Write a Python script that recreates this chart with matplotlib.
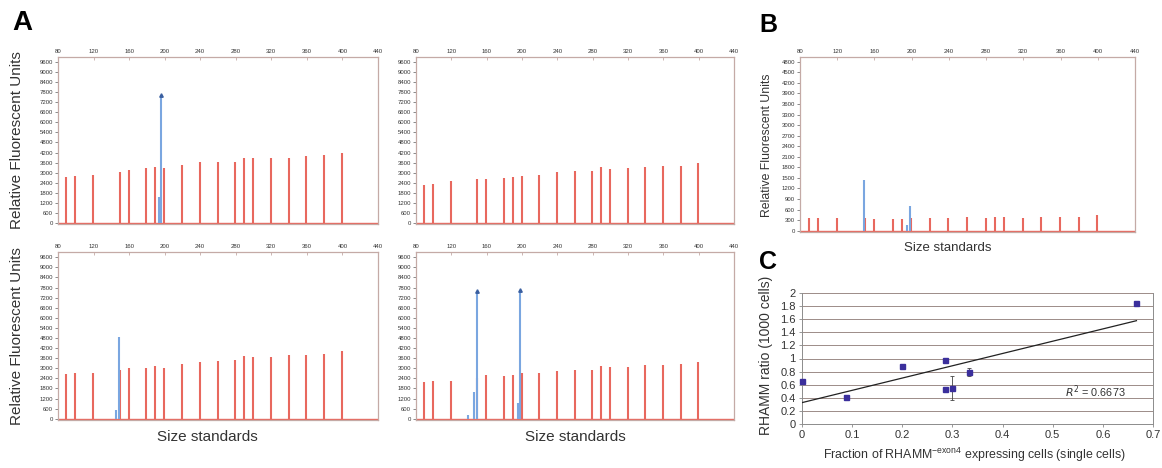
import numpy as np
import matplotlib
matplotlib.use("Agg")
import matplotlib.pyplot as plt
from matplotlib.ticker import FormatStrFormatter

plt.rcParams['font.family'] = ['Liberation Sans', 'DejaVu Sans']

# size-standard ladder (bp) shared by all electropherograms
ladder_bp = [89.5, 99.5, 119.5, 149.5, 159.5, 179.5, 189.5, 199.5, 219.5, 239.5,
             259.5, 279.5, 289.5, 299.5, 319.5, 339.5, 359.5, 379.5, 399.5]

# red (size standard) peak heights, RFU
a1_red = [2750, 2790, 2870, 3050, 3150, 3250, 3350, 3300, 3430, 3610,
          3650, 3630, 3890, 3890, 3850, 3890, 3990, 4050, 4190]
a2_red = [2270, 2310, 2470, 2600, 2620, 2700, 2760, 2800, 2860, 3020,
          3080, 3080, 3310, 3210, 3250, 3350, 3390, 3410, 3550]
a3_red = [2660, 2700, 2700, 2900, 3000, 3040, 3120, 3040, 3230, 3390,
          3450, 3490, 3730, 3650, 3690, 3770, 3790, 3850, 4020]
a4_red = [2170, 2250, 2270, 2410, 2600, 2560, 2600, 2700, 2740, 2840,
          2900, 2900, 3140, 3060, 3060, 3180, 3200, 3240, 3390]
b_red = [350, 370, 370, 350, 340, 330, 340, 350, 350, 370,
         380, 360, 380, 400, 370, 400, 400, 400, 445]

# blue (sample) peaks: position bp, height RFU
a1_blue_bp = [193.6, 196.2]
a1_blue = [1560, 7640]
a2_blue_bp = []
a2_blue = []
a3_blue_bp = [145.6, 148.2]
a3_blue = [530, 4870]
a4_blue_bp = [139.0, 146.0, 149.4, 195.0, 197.7]
a4_blue = [240, 1560, 7600, 930, 7680]
b_blue_bp = [149.2, 195.5, 198.6]
b_blue = [1440, 160, 700]

a_yticks = list(range(0, 9601, 600))
b_yticks = list(range(0, 4801, 300))
x_ticks = list(range(80, 441, 40))

# panel C
frac_single = [0, 0.087, 0.2, 0.286, 0.286, 0.3, 0.333, 0.667]
ratio_1000 = [0.65, 0.41, 0.88, 0.98, 0.54, 0.55, 0.80, 1.85]
ratio_err = [0, 0, 0, 0, 0, 0.18, 0.06, 0]

RED = '#e8685e'
BLUE = '#7aa6e0'
FRAME = '#c4aaa6'

W, H = 1162, 468
fig = plt.figure(figsize=(W / 100, H / 100), dpi=100)


def box(l, t, r, b):
    return [l / W, 1 - b / H, (r - l) / W, (b - t) / H]


def trace(ax, red, blue_bp, blue, yticks, ylim):
    ax.axhline(0, color=RED, lw=1.0, zorder=1)
    ax.vlines(ladder_bp, 0, red, color=RED, lw=1.5, zorder=2)
    if blue_bp:
        ax.vlines(blue_bp, 0, blue, color=BLUE, lw=1.5, zorder=3)
        tall = [(p, h) for p, h in zip(blue_bp, blue) if h > 7000]
        if tall:
            ax.plot([p for p, h in tall], [h for p, h in tall], '^',
                    color='#3a5fa0', ms=2.5, zorder=4)
    ax.set_xlim(80, 440)
    ax.set_ylim(*ylim)
    ax.set_xticks(x_ticks)
    ax.set_yticks(yticks)
    ax.xaxis.tick_top()
    ax.tick_params(axis='x', direction='in', length=2, width=0.6, color=FRAME,
                   labelsize=4.3, pad=2, labelcolor='#333333')
    ax.tick_params(axis='y', direction='out', length=2, width=0.6, color='#777777',
                   labelsize=4.3, pad=1.5, labelcolor='#333333')
    for s in ax.spines.values():
        s.set_color(FRAME)
        s.set_linewidth(0.9)


a_ylim = (-75, 9910)
ax1 = fig.add_axes(box(58, 57, 378, 224))
trace(ax1, a1_red, a1_blue_bp, a1_blue, a_yticks, a_ylim)
ax2 = fig.add_axes(box(416, 57, 734, 224))
trace(ax2, a2_red, a2_blue_bp, a2_blue, a_yticks, a_ylim)
ax3 = fig.add_axes(box(58, 252, 378, 420))
trace(ax3, a3_red, a3_blue_bp, a3_blue, a_yticks, a_ylim)
ax4 = fig.add_axes(box(416, 252, 734, 420))
trace(ax4, a4_red, a4_blue_bp, a4_blue, a_yticks, a_ylim)
axb = fig.add_axes(box(800, 57, 1135, 232))
trace(axb, b_red, b_blue_bp, b_blue, b_yticks, (-38, 4935))

lab_kw = dict(color='#333333', ha='center', va='center')
fig.text(17 / W, 1 - 140 / H, 'Relative Fluorescent Units', rotation=90, fontsize=11, **lab_kw)
fig.text(17 / W, 1 - 336 / H, 'Relative Fluorescent Units', rotation=90, fontsize=11, **lab_kw)
fig.text(207 / W, 1 - 437 / H, 'Size standards', fontsize=11, **lab_kw)
fig.text(575 / W, 1 - 437 / H, 'Size standards', fontsize=11, **lab_kw)
fig.text(767 / W, 1 - 145 / H, 'Relative Fluorescent Units', rotation=90, fontsize=8.8, **lab_kw)
fig.text(948 / W, 1 - 248 / H, 'Size standards', fontsize=9.5, **lab_kw)

# panel C
axc = fig.add_axes(box(802, 293, 1153, 424))
slope, icept = np.polyfit(frac_single, ratio_1000, 1)
xfit = np.array([0, max(frac_single)])
axc.plot(xfit, slope * xfit + icept, color='#222222', lw=0.9, zorder=3)
pts = axc.errorbar(frac_single, ratio_1000, yerr=ratio_err, fmt='s', ms=3.6,
                   color='#3b2f9c', ecolor='#444444', elinewidth=0.6, capsize=1.2,
                   capthick=0.6, zorder=4)
for art in pts.get_children():
    art.set_clip_on(False)
axc.set_xlim(0, 0.7)
axc.set_ylim(0, 2)
axc.set_xticks(np.arange(0, 0.71, 0.1))
axc.set_yticks(np.arange(0, 2.01, 0.2))
axc.xaxis.set_major_formatter(FormatStrFormatter('%g'))
axc.yaxis.set_major_formatter(FormatStrFormatter('%g'))
axc.grid(axis='y', color='#9c8c88', lw=0.7)
axc.set_axisbelow(True)
axc.tick_params(labelsize=8, length=2.5, width=0.6, color='#888888',
                labelcolor='#333333', pad=2)
axc.spines['top'].set_visible(False)
for s in ['left', 'bottom', 'right']:
    axc.spines[s].set_color('#8c8c8c')
    axc.spines[s].set_linewidth(0.7)
axc.text(0.585, 0.49, r'$R^2$ = 0.6673', fontsize=7.8, color='#333333',
         va='center', ha='center')
fig.text(766 / W, 1 - 355 / H, 'RHAMM ratio (1000 cells)', rotation=90, fontsize=10, **lab_kw)
fig.text(974 / W, 1 - 455 / H, r'Fraction of RHAMM$^{\mathregular{-exon4}}$ expressing cells (single cells)',
         fontsize=8.9, **lab_kw)

# panel letters
fig.text(12 / W, 1 - 23 / H, 'A', fontsize=20, fontweight='bold', va='center', ha='left')
fig.text(759 / W, 1 - 25 / H, 'B', fontsize=18, fontweight='bold', va='center', ha='left')
fig.text(759 / W, 1 - 262 / H, 'C', fontsize=18, fontweight='bold', va='center', ha='left')

fig.savefig('out.png', dpi=100)
